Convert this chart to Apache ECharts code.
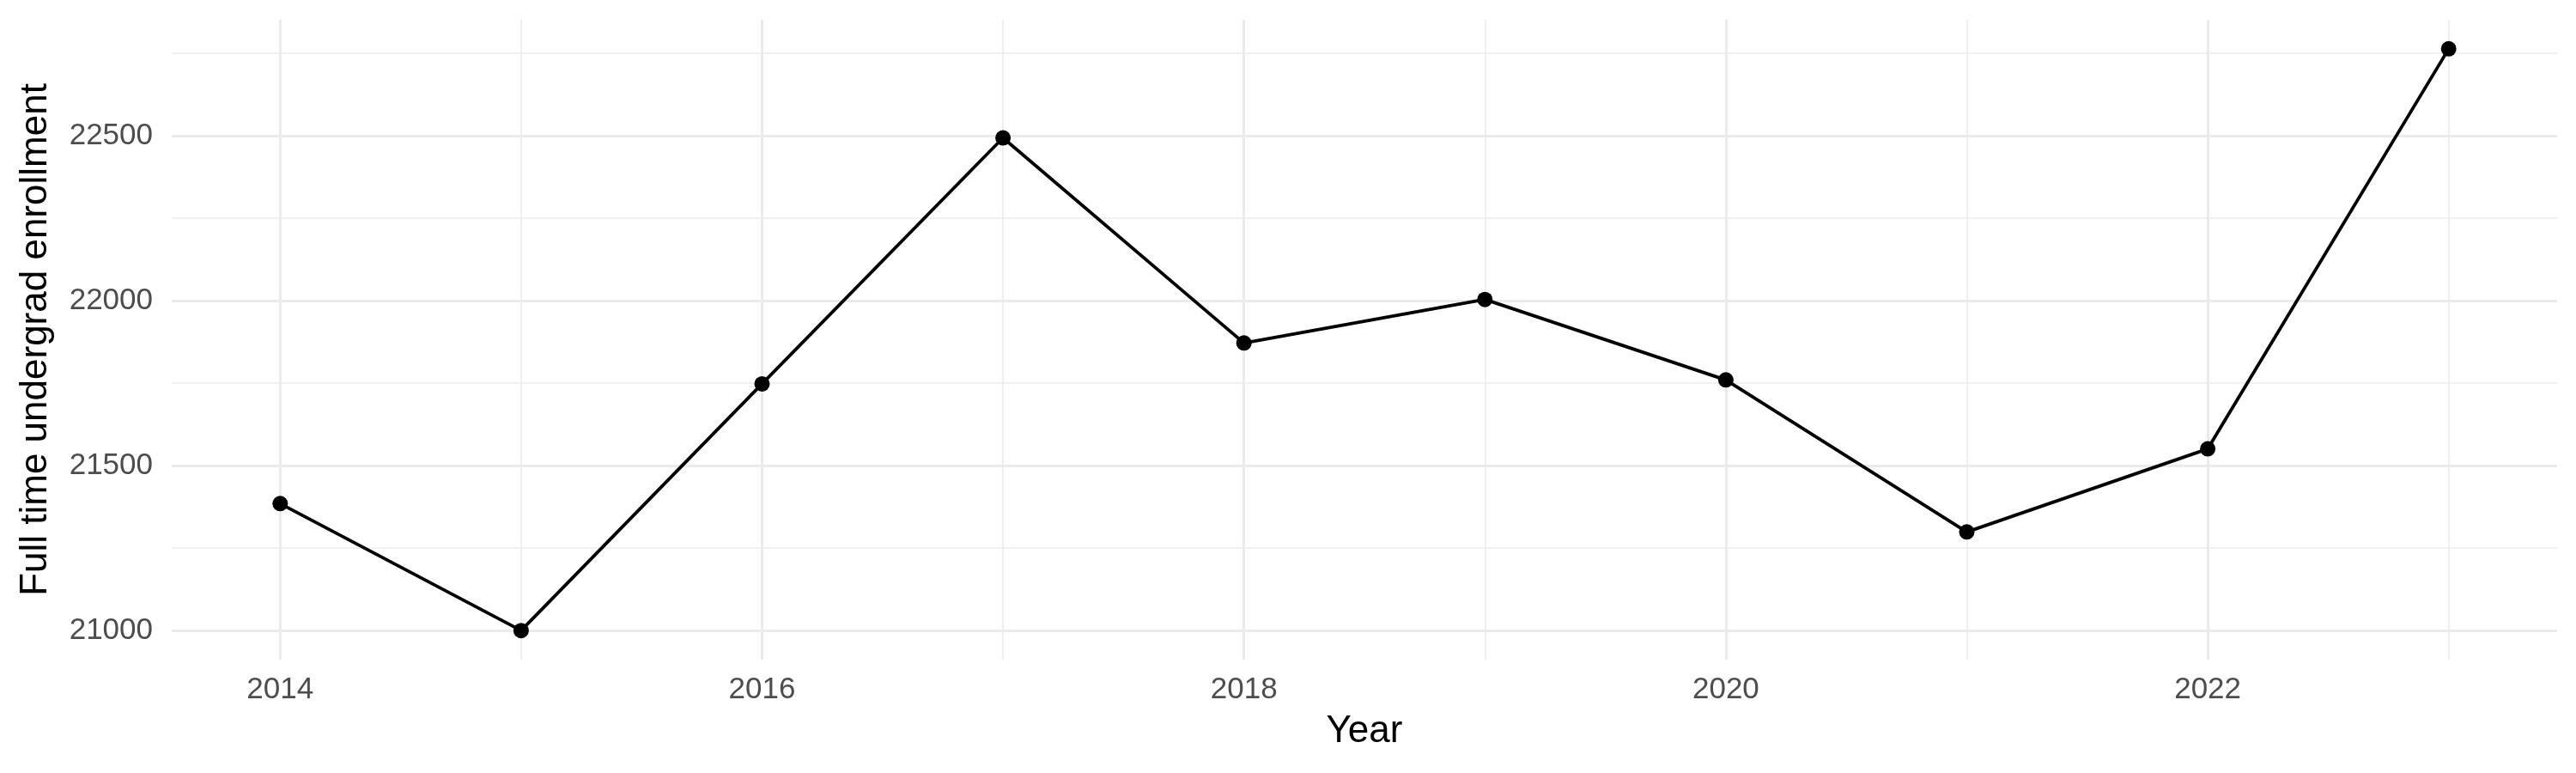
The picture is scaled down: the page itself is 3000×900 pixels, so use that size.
<!DOCTYPE html>
<html>
<head>
<meta charset="utf-8">
<script src="https://cdn.jsdelivr.net/npm/echarts@6/dist/echarts.min.js"></script>
<style>
  html, body { margin: 0; padding: 0; background: #fff; }
  #chart { width: 3000px; height: 900px; }
</style>
</head>
<body>
<div id="chart"></div>
<script>
// values
var years = [2014, 2015, 2016, 2017, 2018, 2019, 2020, 2021, 2022, 2023];
var enrollment = [21385, 21000, 21748, 22494, 21872, 22004, 21760, 21299, 21551, 22764];

var xMajorTicks = [2014, 2016, 2018, 2020, 2022];
var xMinorTicks = [2015, 2017, 2019, 2021, 2023];
var yMajorTicks = [21000, 21500, 22000, 22500];
var yMinorTicks = [21250, 21750, 22250, 22750];

// ggplot style 5% expansion of the data range
var xMin = 2013.55, xMax = 2023.45;
var yMin = 20911.8, yMax = 22852.2;

var points = years.map(function (y, i) { return [y, enrollment[i]]; });

var font = '"Liberation Sans", Arial, Helvetica, sans-serif';
var gridColor = '#EBEBEB';

var myChart = echarts.init(document.getElementById('chart'));
var option = {
    animation: false,
    backgroundColor: '#ffffff',
    grid: {left: 200, right: 22, top: 23, bottom: 132},
    xAxis: [
        {
            type: 'value',
            min: xMin,
            max: xMax,
            name: 'Year',
            nameLocation: 'middle',
            nameGap: 62,
            nameTextStyle: {color: '#000', fontSize: 44, fontFamily: font},
            axisLine: {show: false},
            axisTick: {show: false, customValues: xMajorTicks},
            axisLabel: {
                customValues: xMajorTicks,
                color: '#4D4D4D',
                fontSize: 35,
                fontFamily: font,
                margin: 18,
                formatter: function (v) { return String(v); }
            },
            splitLine: {show: true, lineStyle: {color: gridColor, width: 3}}
        },
        {
            type: 'value',
            min: xMin,
            max: xMax,
            position: 'bottom',
            axisLine: {show: false},
            axisTick: {show: false, customValues: xMinorTicks},
            axisLabel: {show: false},
            splitLine: {show: true, lineStyle: {color: gridColor, width: 1.6}}
        }
    ],
    yAxis: [
        {
            type: 'value',
            min: yMin,
            max: yMax,
            name: 'Full time undergrad enrollment',
            nameLocation: 'middle',
            nameGap: 136,
            nameTextStyle: {color: '#000', fontSize: 44, fontFamily: font},
            axisLine: {show: false},
            axisTick: {show: false, customValues: yMajorTicks},
            axisLabel: {
                customValues: yMajorTicks,
                color: '#4D4D4D',
                fontSize: 35,
                fontFamily: font,
                margin: 22,
                formatter: function (v) { return String(v); }
            },
            splitLine: {show: true, lineStyle: {color: gridColor, width: 3}}
        },
        {
            type: 'value',
            min: yMin,
            max: yMax,
            position: 'left',
            axisLine: {show: false},
            axisTick: {show: false, customValues: yMinorTicks},
            axisLabel: {show: false},
            splitLine: {show: true, lineStyle: {color: gridColor, width: 1.6}}
        }
    ],
    series: [
        {
            type: 'line',
            xAxisIndex: 0,
            yAxisIndex: 0,
            data: points,
            symbol: 'circle',
            symbolSize: 18,
            lineStyle: {color: '#000', width: 3.8},
            itemStyle: {color: '#000'}
        }
    ]
};
myChart.setOption(option);
</script>
</body>
</html>
